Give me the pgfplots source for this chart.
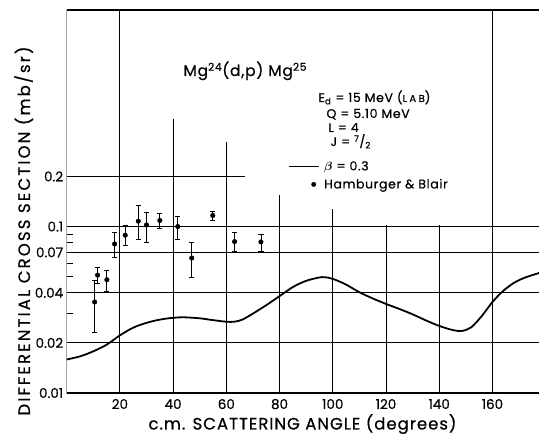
\documentclass[border=0pt]{standalone}
\usepackage{amsmath}
\usepackage{fontspec}
\setmainfont{Poppins}[FakeBold=0.5]
\newfontfamily\ylabfont{Poppins}[LetterSpace=13, FakeBold=0.6]
\newfontfamily\xlabfont{Poppins}[LetterSpace=6, FakeBold=0.6]
\newfontfamily\txtfont{Poppins}[LetterSpace=5, FakeBold=0.6]
\usepackage{pgfplots}
\pgfplotsset{compat=1.18}
\usepackage{pgfplotstable}

\pgfplotstableread{
x y ep em
10.5 0.0352 0.0122 0.0120
11.6 0.0511 0.0058 0.0058
15.1 0.0479 0.0069 0.0074
18.0 0.0786 0.0134 0.0130
22.0 0.0887 0.0133 0.0115
26.9 0.1077 0.0255 0.0238
30.0 0.1023 0.0191 0.0223
35.0 0.1087 0.0116 0.0114
41.75 0.1000 0.0154 0.0161
47.0 0.0647 0.0153 0.0150
54.9 0.1165 0.0067 0.0083
63.1 0.0812 0.0108 0.0105
73.0 0.0808 0.0095 0.0101
}\hbdata

\pgfplotstableread{
x y
0 0.0159
5 0.0166
10 0.0178
15 0.0195
20 0.0222
25 0.0247
30 0.0264
35 0.0276
40 0.0283
44 0.0285
50 0.0281
55 0.0274
60 0.0268
63 0.0268
66 0.0276
70 0.0300
75 0.0337
80 0.0382
85 0.0433
90 0.0472
96 0.0497
100 0.0485
105 0.0448
110 0.0403
115 0.0370
120 0.0343
125 0.0320
130 0.0297
135 0.0273
140 0.0253
145 0.0239
148.5 0.0236
152 0.0248
156 0.0290
160 0.0352
164 0.0410
168 0.0458
172 0.0492
177.5 0.0526
}\theory

\pgfplotsset{gl/.style={black, line width=0.9pt, forget plot}}

\begin{document}
\begin{tikzpicture}
\begin{axis}[
  scale only axis, width=472.3pt, height=383pt,
  xmin=0, xmax=177.5, ymode=log, ymin=0.01, ymax=2,
  axis line style={draw=none},
  xtick={20,40,60,80,100,120,140,160},
  xticklabels={20,40,60,80,100,120,140,160},
  ytick={0.01,0.02,0.04,0.07,0.1,0.2},
  yticklabels={0.01,0.02,0.04,0.07,0.1,0.2},
  minor ytick={0.03,0.05,0.06,0.08,0.09},
  xtick pos=bottom, ytick pos=left,
  major tick length=0pt, minor tick length=6.5pt,
  tick align=inside,
  minor tick style={line width=0.9pt, black},
  tick label style={font=\fontsize{13.5}{16}\selectfont},
  xticklabel style={yshift=-2.5pt},
  /pgf/number format/assume math mode=true,
  legend style={draw=none, fill=none, at={(0.4686,0.611)}, anchor=north west,
    inner sep=0pt, row sep=3pt, column sep=3pt,
    font=\fontsize{12.5}{15}\selectfont\txtfont, nodes={inner sep=2pt}},
  legend cell align=left,
]
% grid lines
\addplot[gl] coordinates {(0,0.02) (177.5,0.02)};
\addplot[gl] coordinates {(0,0.04) (177.5,0.04)};
\addplot[gl] coordinates {(0,0.07) (177.5,0.07)};
\addplot[gl] coordinates {(0,0.1) (177.5,0.1)};
\addplot[gl] coordinates {(0,0.2) (67,0.2)};
\addplot[gl] coordinates {(20,0.01) (20,2)};
\addplot[gl] coordinates {(40,0.01) (40,0.44)};
\addplot[gl] coordinates {(60,0.01) (60,0.32)};
\addplot[gl] coordinates {(80,0.01) (80,0.155)};
\addplot[gl] coordinates {(100,0.01) (100,0.127)};
\addplot[gl] coordinates {(120,0.01) (120,0.102)};
\addplot[gl] coordinates {(140,0.01) (140,0.102)};
\addplot[gl] coordinates {(160,0.01) (160,2)};

\addplot[black, line width=1.8pt, smooth,
  legend image code/.code={\draw[black, line width=1pt] (0pt,0pt) -- (30pt,0pt);}]
  table[x=x, y=y] {\theory};
\addlegendentry{$\boldsymbol{\beta}$ = 0.3}

\addplot[black, only marks, mark=*, mark size=2.3pt,
  legend image code/.code={\fill[black] (25pt,0pt) circle (2.2pt);},
  error bars/.cd, y dir=both, y explicit,
  error bar style={line width=0.8pt, black},
  error mark options={rotate=90, mark size=2.6pt, line width=0.8pt, black}]
  table[x=x, y=y, y error plus=ep, y error minus=em] {\hbdata};
\addlegendentry{Hamburger \& Blair}

% frame: left, bottom, top
\draw[line width=1.3pt] (rel axis cs:0,1) -- (rel axis cs:0,0) -- (rel axis cs:1,0);
\draw[line width=1.1pt] (rel axis cs:0,1) -- (rel axis cs:1,1);
\end{axis}

\node[anchor=base west, font=\fontsize{15.5}{18}\selectfont\txtfont] at (113.3pt,317pt)
  {Mg\textsuperscript{24}(d,p)\ Mg\textsuperscript{25}};
\begin{scope}[every node/.style={anchor=base west, font=\fontsize{12.5}{15}\selectfont\txtfont}]
\node at (248.3pt,291pt) {E\textsubscript{d} = 15 MeV ({\fontsize{10}{12}\selectfont\addfontfeature{LetterSpace=25}LAB})};
\node at (256.3pt,275pt) {Q = 5.10 MeV};
\node at (258.3pt,261pt) {L = 4};
\node at (260.3pt,247pt) {J = \textsuperscript{7}/\textsubscript{2}};
\end{scope}

\node[rotate=90, anchor=base, font=\fontsize{16.5}{19}\selectfont\ylabfont] at (-36.7pt,162pt)
  {DIFFERENTIAL CROSS SECTION (mb/sr)};
\node[anchor=base, font=\fontsize{16.5}{19}\selectfont\xlabfont] at (235.8pt,-36.5pt)
  {c.m. SCATTERING ANGLE (degrees)};

\pgfresetboundingbox
\path[use as bounding box] (-66.7pt,-41pt) rectangle (472.3pt,393pt);
\end{tikzpicture}
\end{document}
